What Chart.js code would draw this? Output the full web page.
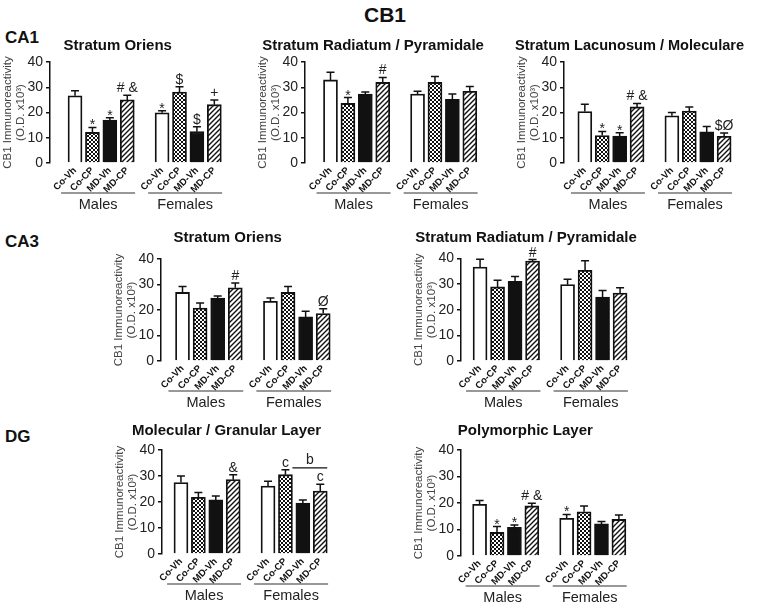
<!DOCTYPE html>
<html>
<head>
<meta charset="utf-8">
<script src="https://cdn.jsdelivr.net/npm/chart.js@4.4.0/dist/chart.umd.min.js"></script>
<style>
  html, body { margin: 0; padding: 0; background: #fff; overflow: hidden; }
  #page { position: relative; width: 770px; height: 606px; font-family: "Liberation Sans", Arial, sans-serif; color: #111; }
  .head { position: absolute; font-weight: bold; line-height: 1; white-space: nowrap; }
  canvas { position: absolute; }
</style>
</head>
<body>
<div id="page">
  <div class="head" style="left:0;width:770px;text-align:center;top:4px;font-size:21px">CB1</div>
  <div class="head" style="left:5px;top:29px;font-size:17px">CA1</div>
  <div class="head" style="left:5px;top:233px;font-size:17px">CA3</div>
  <div class="head" style="left:5px;top:428px;font-size:17px">DG</div>
</div>
<script>
// treatment groups and where each bar sits on the x axis (males 0-3, females 5-8)
const groups = ['Co-Vh', 'Co-CP', 'MD-Vh', 'MD-CP'];
const sexes = ['Males', 'Females'];
const slots = [0, 1, 2, 3, 5, 6, 7, 8];
const yTicks = [0, 10, 20, 30, 40];

// mean, SEM and significance mark per bar: males then females
const ca1OriensMean = [26.6, 12.1, 17.0, 25.0, 19.9, 28.1, 12.4, 23.1];
const ca1OriensSem  = [2.0, 2.0, 0.9, 1.8, 0.8, 2.1, 2.0, 1.9];
const ca1OriensSig  = ['', '*', '*', '# &', '*', '$', '$', '+'];

const ca1RadMean = [32.9, 23.6, 27.3, 31.9, 27.3, 31.9, 25.2, 28.4];
const ca1RadSem  = [3.0, 2.3, 0.8, 2.0, 1.1, 2.4, 2.1, 1.9];
const ca1RadSig  = ['', '*', '', '#', '', '', '', ''];

const ca1LacMean = [20.4, 10.9, 10.7, 22.2, 18.7, 20.6, 12.3, 10.6];
const ca1LacSem  = [2.9, 1.6, 1.3, 1.4, 1.3, 1.6, 2.2, 1.3];
const ca1LacSig  = ['', '*', '*', '# &', '', '', '', '$Ø'];

const ca3OriensMean = [26.9, 20.8, 24.7, 28.7, 23.4, 26.9, 17.3, 18.6];
const ca3OriensSem  = [2.3, 1.9, 0.8, 1.9, 1.3, 2.3, 2.2, 1.9];
const ca3OriensSig  = ['', '', '', '#', '', '', '', 'Ø'];

const ca3RadMean = [36.7, 28.9, 31.1, 39.0, 29.8, 35.4, 24.9, 26.5];
const ca3RadSem  = [3.0, 2.6, 1.9, 0.6, 2.1, 3.7, 2.6, 2.1];
const ca3RadSig  = ['', '', '', '#', '', '', '', ''];

const dgMolMean = [27.5, 21.8, 20.8, 28.6, 26.1, 30.5, 19.6, 24.2];
const dgMolSem  = [2.5, 1.9, 1.5, 1.9, 1.9, 1.9, 1.2, 2.6];
const dgMolSig  = ['', '', '', '&', '', 'c', '', 'c'];
const dgMolBracket = { from: 6, to: 7, value: 33.1, label: 'b' };

const dgPolyMean = [19.5, 8.9, 10.8, 18.9, 14.2, 16.7, 12.1, 13.8];
const dgPolySem  = [1.4, 2.2, 0.9, 1.0, 1.5, 2.2, 0.9, 1.7];
const dgPolySig  = ['', '*', '*', '# &', '*', '', '', ''];

const FONT = '"Liberation Sans", Arial, sans-serif';
Chart.defaults.font.family = FONT;

const YW = 49;        // y axis box width
const XH = 55;        // x axis box height
const PAD_TOP = 4;
const TITLE_LH = 18;

// panel placement on the page
const panels = [
  { title: 'Stratum Oriens', mean: ca1OriensMean, sem: ca1OriensSem, sig: ca1OriensSig,
    axisX: 50, top: 62, bottom: 163, xMin: -0.775, unit: 19.9, titleX: 139, titleY: 46 },
  { title: 'Stratum Radiatum / Pyramidale', mean: ca1RadMean, sem: ca1RadSem, sig: ca1RadSig,
    axisX: 305, top: 62, bottom: 163, xMin: -0.8, unit: 19.9, titleX: 396, titleY: 46 },
  { title: 'Stratum Lacunosum / Moleculare', mean: ca1LacMean, sem: ca1LacSem, sig: ca1LacSig,
    axisX: 564, top: 62, bottom: 163, xMin: -0.55, unit: 19.9, titleX: 640, titleY: 46 },
  { title: 'Stratum Oriens', mean: ca3OriensMean, sem: ca3OriensSem, sig: ca3OriensSig,
    axisX: 161, top: 259, bottom: 361, xMin: -0.575, unit: 20.1, titleX: 245, titleY: 238 },
  { title: 'Stratum Radiatum / Pyramidale', mean: ca3RadMean, sem: ca3RadSem, sig: ca3RadSig,
    axisX: 461, top: 258, bottom: 360, xMin: -0.45, unit: 20, titleX: 542, titleY: 237.5 },
  { title: 'Molecular / Granular Layer', mean: dgMolMean, sem: dgMolSem, sig: dgMolSig, bracket: dgMolBracket,
    axisX: 162, top: 450, bottom: 554, xMin: -0.45, unit: 19.9, titleX: 241, titleY: 431 },
  { title: 'Polymorphic Layer', mean: dgPolyMean, sem: dgPolySem, sig: dgPolySig,
    axisX: 461, top: 450, bottom: 556, xMin: -0.43, unit: 19.9, titleX: 540, titleY: 431 }
];

function tile(size, draw) {
  const c = document.createElement('canvas');
  c.width = c.height = size;
  const g = c.getContext('2d');
  g.fillStyle = '#fff';
  g.fillRect(0, 0, size, size);
  draw(g);
  return g.createPattern(c, 'repeat');
}

const checker = tile(4, g => {
  g.fillStyle = '#111';
  g.fillRect(0, 0, 2, 2);
  g.fillRect(2, 2, 2, 2);
});
const hatch = tile(5, g => {
  g.strokeStyle = '#111';
  g.lineWidth = 1.4;
  g.beginPath();
  g.moveTo(0, 5); g.lineTo(5, 0);
  g.moveTo(-1, 1); g.lineTo(1, -1);
  g.moveTo(4, 6); g.lineTo(6, 4);
  g.stroke();
});
const fills = ['#fff', checker, '#111', hatch, '#fff', checker, '#111', hatch];

function extras(p) {
  return {
    id: 'extras',
    afterDatasetsDraw(chart) {
      const ctx = chart.ctx, xs = chart.scales.x, ys = chart.scales.y;
      const bars = chart.getDatasetMeta(0).data;
      ctx.save();
      ctx.strokeStyle = '#111';
      ctx.fillStyle = '#222';
      ctx.lineWidth = 1.5;
      ctx.font = '14px ' + FONT;
      ctx.textAlign = 'center';
      ctx.textBaseline = 'alphabetic';
      bars.forEach((bar, i) => {
        const yTop = ys.getPixelForValue(p.mean[i] + p.sem[i]);
        ctx.beginPath();
        ctx.moveTo(bar.x, bar.y);
        ctx.lineTo(bar.x, yTop);
        ctx.moveTo(bar.x - 4, yTop);
        ctx.lineTo(bar.x + 4, yTop);
        ctx.stroke();
        const s = p.sig[i];
        if (s) ctx.fillText(s, bar.x, yTop - 3 + (s === '*' ? 5 : 0));
      });
      if (p.bracket) {
        const b = p.bracket;
        const y = ys.getPixelForValue(b.value);
        const x1 = xs.getPixelForValue(slots[b.from] - 0.6);
        const x2 = xs.getPixelForValue(slots[b.to] + 0.4);
        ctx.lineWidth = 1.2;
        ctx.beginPath();
        ctx.moveTo(x1, y); ctx.lineTo(x2, y);
        ctx.stroke();
        ctx.fillText(b.label, (x1 + x2) / 2, y - 4);
      }
      // sex group underline and label
      const y0 = ys.getPixelForValue(0);
      ctx.lineWidth = 1.2;
      ctx.strokeStyle = '#333';
      ctx.font = '14.5px ' + FONT;
      ctx.textBaseline = 'middle';
      sexes.forEach((sx, g) => {
        const x1 = xs.getPixelForValue(slots[g * 4] - 0.8);
        const x2 = xs.getPixelForValue(slots[g * 4 + 3] + 0.45);
        ctx.beginPath();
        ctx.moveTo(x1, y0 + 30); ctx.lineTo(x2, y0 + 30);
        ctx.stroke();
        ctx.fillText(sx, (x1 + x2) / 2, y0 + 41.5);
      });
      ctx.restore();
    }
  };
}

const page = document.getElementById('page');

panels.forEach(p => {
  const cv = document.createElement('canvas');
  const left = p.axisX - YW;
  const cTop = p.titleY - PAD_TOP - TITLE_LH / 2;
  const plotW = (8.5 - p.xMin) * p.unit;
  const w = Math.round(2 * (p.titleX - left));
  const h = Math.round(p.bottom - cTop + XH);
  cv.width = w;
  cv.height = h;
  cv.style.left = left + 'px';
  cv.style.top = cTop + 'px';
  page.appendChild(cv);

  new Chart(cv, {
    type: 'bar',
    data: {
      datasets: [{
        data: slots.map((s, i) => ({ x: s, y: p.mean[i] })),
        backgroundColor: fills,
        borderColor: '#111',
        borderWidth: 1.8,
        barThickness: 14
      }]
    },
    options: {
      responsive: false,
      animation: false,
      layout: { padding: { top: PAD_TOP, right: w - YW - plotW, left: 0, bottom: 0 } },
      plugins: {
        legend: { display: false },
        tooltip: { enabled: false },
        title: {
          display: true,
          text: p.title,
          color: '#111',
          font: { size: 15, weight: 'bold' },
          padding: { top: 0, bottom: p.top - p.titleY - TITLE_LH / 2 }
        }
      },
      scales: {
        x: {
          type: 'linear',
          min: p.xMin,
          max: 8.5,
          grid: { display: false, drawTicks: false },
          border: { display: false },
          afterBuildTicks: axis => { axis.ticks = slots.map(v => ({ value: v })); },
          afterFit: s => { s.height = XH; },
          ticks: {
            autoSkip: false,
            minRotation: 45,
            maxRotation: 45,
            padding: 2,
            color: '#111',
            font: { size: 9.5, weight: 'bold' },
            callback: (v, i) => groups[i % 4]
          }
        },
        y: {
          min: 0,
          max: 40,
          afterBuildTicks: axis => { axis.ticks = yTicks.map(v => ({ value: v })); },
          afterFit: s => { s.width = YW; },
          grid: { drawOnChartArea: false, drawTicks: true, tickLength: 4, color: '#111', lineWidth: 1.5 },
          border: { display: true, color: '#111', width: 1.5 },
          ticks: { padding: 3, color: '#222', font: { size: 14 } },
          title: {
            display: true,
            text: ['CB1 Immunoreactivity', '(O.D. x10³)'],
            color: '#444',
            font: { size: 11.5, lineHeight: 1.15 },
            padding: { top: 0, bottom: 0 }
          }
        }
      }
    },
    plugins: [extras(p)]
  });
});
</script>
</body>
</html>
